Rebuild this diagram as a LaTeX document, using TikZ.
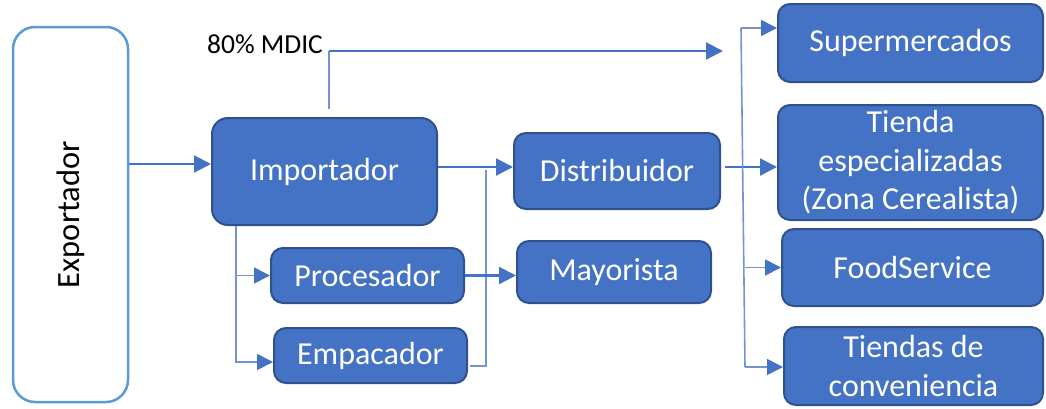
\documentclass[tikz,border=0pt]{standalone}
\usepackage{fontspec}
\setmainfont{Carlito}
\usetikzlibrary{arrows.meta,calc}
\definecolor{boxfill}{HTML}{4472C4}
\definecolor{boxline}{HTML}{2F528F}
\definecolor{exline}{HTML}{5B9BD5}
\definecolor{connc}{HTML}{4472C4}
\definecolor{connlc}{HTML}{7393D6}
\tikzset{
  bluebox/.style={draw=boxline, line width=2pt, fill=boxfill, text=white, rounded corners=12pt,
    inner sep=0pt, align=center, font=\fontsize{32}{38.5}\selectfont},
  conn/.style={draw=connc, line width=2.2pt, -{Triangle[length=17pt,width=17pt]}},
  connl/.style={draw=connlc, line width=1.6pt},
  connla/.style={draw=connlc, line width=1.6pt, -{Triangle[length=16pt,width=16pt,color=connc]}},
}
\begin{document}
\begin{tikzpicture}[x=1pt,y=-1pt]
\useasboundingbox (0,0) rectangle (1046,408);
% nodes
\node[draw=exline, line width=2.5pt, fill=white, rounded corners=22pt, minimum width=115pt, minimum height=375pt, inner sep=0pt] (exp) at (70.5,214.5) {};
\node[rotate=90, font=\fontsize{32.5}{38}\selectfont] (expt) at (exp.center) {Exportador};
\node[bluebox, rounded corners=16pt, minimum width=225pt, minimum height=107pt] (imp) at (324.5,171.5) {Importador};
\node[bluebox, minimum width=193pt, minimum height=55pt] (proc) at (367.5,275.5) {Procesador};
\node[bluebox, minimum width=193pt, minimum height=55pt] (emp) at (370.5,355.5) {Empacador};
\node[bluebox, minimum width=206pt, minimum height=76pt] (dist) at (617,171) {Distribuidor};
\node[bluebox, minimum width=194pt, minimum height=62pt] (may) at (614,272) {Mayorista};
\node[bluebox, minimum width=265pt, minimum height=78pt] (sup) at (910.5,43) {Supermercados};
\node[bluebox, minimum width=265pt, minimum height=115pt] (tie) at (910.5,162.5) {Tienda\\especializadas\\(Zona Cerealista)};
\node[bluebox, minimum width=261pt, minimum height=77pt] (food) at (912.5,267.5) {FoodService};
\node[bluebox, minimum width=259pt, minimum height=78pt] (conv) at (913.5,366) {Tiendas de\\conveniencia};
\node[font=\fontsize{27.5}{32}\selectfont] (mdic) at (265,44) {80\% MDIC};
% connectors
\coordinate (ie) at ($(imp.west)+(0,-7.5)$);
\draw[conn] (exp.east |- ie) -- (ie);
\coordinate (m1) at ($(imp.north)+(4.5,-8)$);
\coordinate (mend) at (723,51);
\draw[connl] (m1) -- (m1 |- mend);
\draw[conn] (m1 |- mend) -- (mend);
\coordinate (id) at ($(imp.east)+(0,-4.5)$);
\draw[conn] (id) -- (dist.west |- id);
\coordinate (ib) at ($(imp.south west)+(25,0)$);
\draw[connla] (ib) |- (proc.west);
\draw[connla] (ib) |- ($(emp.west)+(0,6.5)$);
\coordinate (ee) at ($(emp.east)+(2,10.5)$);
\coordinate (jn) at (486,170);
\draw[connl] (ee) -| (jn);
\draw[conn] (proc.east) -- (proc.east -| may.west);
\coordinate (de) at ($(dist.east)+(4,-4)$);
\draw[conn] (de) -- (tie.west |- de);
\coordinate (bt) at (741,28);
\coordinate (bb) at (745,367);
\draw[connla] (bt) -- (sup.west |- bt);
\draw[connl] (bt) -- (bb);
\draw[connla] (bb) -- (conv.west |- bb);
\draw[connla] (food.west -| bb) -- (food.west);
\end{tikzpicture}
\end{document}
